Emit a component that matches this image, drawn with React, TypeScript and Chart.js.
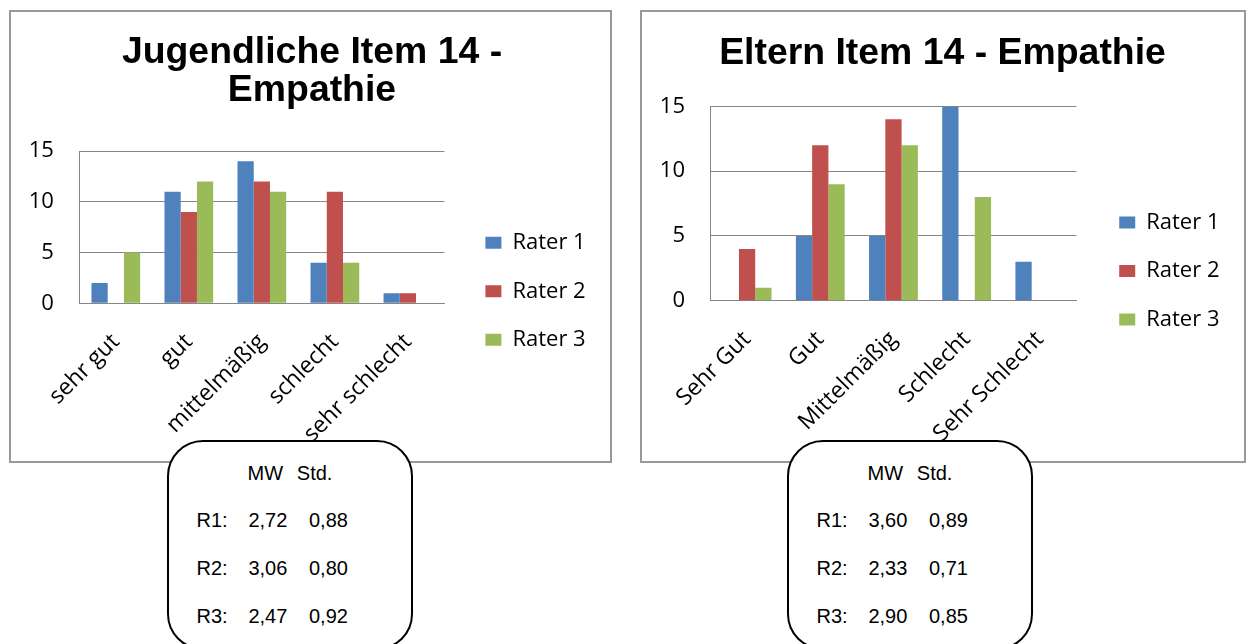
import React, { useEffect, useRef } from "react";
import { Chart, registerables } from "chart.js";

Chart.register(...registerables);

// ---------- data ----------
const jugendCategories = ["sehr gut", "gut", "mittelmäßig", "schlecht", "sehr schlecht"];
const jugendRater1 = [2, 11, 14, 4, 1];
const jugendRater2 = [0, 9, 12, 11, 1];
const jugendRater3 = [5, 12, 11, 4, 0];

const elternCategories = ["Sehr Gut", "Gut", "Mittelmäßig", "Schlecht", "Sehr Schlecht"];
const elternRater1 = [0, 5, 5, 15, 3];
const elternRater2 = [4, 12, 14, 0, 0];
const elternRater3 = [1, 9, 12, 8, 0];

const raterLabels = ["Rater 1", "Rater 2", "Rater 3"];
const raterColors = ["#4F81BD", "#C0504D", "#9BBB59"];
const yMin = 0;
const yMax = 15;
const yStep = 5;

const jugendTitle = ["Jugendliche Item 14 -", "Empathie"];
const elternTitle = "Eltern Item 14 - Empathie";

const statsHeader = ["MW", "Std."];
const statsRows = ["R1:", "R2:", "R3:"];
const jugendMW = ["2,72", "3,06", "2,47"];
const jugendStd = ["0,88", "0,80", "0,92"];
const elternMW = ["3,60", "2,33", "2,90"];
const elternStd = ["0,89", "0,71", "0,85"];

const TICK_FONT = "'Open Sans', sans-serif";
const TITLE_FONT = "'Liberation Sans', Arial, sans-serif";
const GRID = "#868686";

type PanelProps = {
  left: number;
  top: number;
  width: number;
  height: number;
  title: string | string[];
  titlePadTop: number;
  titlePadBottom: number;
  categories: string[];
  series: number[][];
  padLeft: number;
  yAxisWidth: number;
  xAxisHeight: number;
  padRight: number;
  dummyWidth: number;
  legendOffset: number;
  xPad: number;
};

function ChartPanel(p: PanelProps) {
  const ref = useRef<HTMLCanvasElement | null>(null);
  useEffect(() => {
    if (!ref.current) return;
    const chart = new Chart(ref.current, {
      type: "bar",
      data: {
        labels: p.categories,
        datasets: p.series.map((vals, i) => ({
          label: raterLabels[i],
          data: vals,
          backgroundColor: raterColors[i],
          borderWidth: 0,
          categoryPercentage: 0.667,
          barPercentage: 1,
          yAxisID: "y",
        })),
      },
      options: {
        animation: false,
        responsive: false,
        maintainAspectRatio: false,
        devicePixelRatio: 1,
        layout: {
          padding: { top: 0, left: p.padLeft, right: p.padRight, bottom: 0 },
        },
        plugins: {
          tooltip: { enabled: false },
          title: {
            display: true,
            text: p.title,
            color: "#000",
            font: { family: TITLE_FONT, size: 37.4, weight: "bold", lineHeight: 1.03 },
            padding: { top: p.titlePadTop, bottom: p.titlePadBottom },
          },
          legend: {
            display: true,
            position: "right",
            align: "start",
            maxWidth: 220,
            title: {
              display: true,
              text: "",
              font: { size: 1, lineHeight: 1 },
              padding: { top: p.legendOffset, bottom: 0 },
            },
            labels: {
              boxWidth: 16,
              boxHeight: 12,
              padding: 26.5,
              color: "#000",
              font: { family: TICK_FONT, size: 22 },
            },
          },
        },
        scales: {
          x: {
            grid: { display: false, drawTicks: false },
            border: { display: true, color: GRID, width: 1 },
            ticks: {
              autoSkip: false,
              minRotation: 45,
              maxRotation: 45,
              padding: p.xPad,
              color: "#000",
              font: { family: TICK_FONT, size: 23 },
            },
            afterFit: (s: any) => {
              s.paddingLeft = 0;
              s.paddingRight = 0;
              s.height = p.xAxisHeight;
            },
          },
          y: {
            position: "left",
            min: yMin,
            max: yMax,
            grid: { color: GRID, lineWidth: 1, drawTicks: false },
            border: { display: true, color: GRID, width: 1 },
            ticks: {
              stepSize: yStep,
              padding: 25.5,
              color: "#000",
              font: { family: TICK_FONT, size: 22 },
            },
            afterFit: (s: any) => {
              s.width = p.yAxisWidth;
            },
          },
          yR: {
            type: "linear",
            position: "right",
            display: true,
            grid: { display: false, drawTicks: false },
            border: { display: false },
            ticks: { display: false },
            afterFit: (s: any) => {
              s.width = p.dummyWidth;
            },
          },
        },
      },
    } as any);
    return () => chart.destroy();
  }, []);
  return (
    <div
      style={{
        position: "absolute",
        left: p.left,
        top: p.top,
        width: p.width,
        height: p.height,
        border: "2px solid #999",
        boxSizing: "border-box",
        background: "#fff",
      }}
    >
      <canvas ref={ref} width={p.width - 4} height={p.height - 4} style={{ display: "block" }} />
    </div>
  );
}

function StatsBox({ left, mw, std }: { left: number; mw: string[]; std: string[] }) {
  const font: React.CSSProperties = {
    position: "absolute",
    fontFamily: "'Liberation Sans', Arial, sans-serif",
    fontSize: 20,
    lineHeight: "20px",
    color: "#000",
    whiteSpace: "nowrap",
  };
  const rowTops = [509.7, 558.2, 606.2];
  return (
    <>
      <div
        style={{
          position: "absolute",
          left: left,
          top: 440,
          width: 246,
          height: 210,
          border: "2px solid #000",
          borderRadius: 36,
          boxSizing: "border-box",
          background: "#fff",
        }}
      />
      <span style={{ ...font, left: left + 80.5, top: 463 }}>{statsHeader[0]}</span>
      <span style={{ ...font, left: left + 129.8, top: 463 }}>{statsHeader[1]}</span>
      {statsRows.map((r, i) => (
        <React.Fragment key={r}>
          <span style={{ ...font, left: left + 29.5, top: rowTops[i] }}>{r}</span>
          <span style={{ ...font, left: left + 81.4, top: rowTops[i] }}>{mw[i]}</span>
          <span style={{ ...font, left: left + 142, top: rowTops[i] }}>{std[i]}</span>
        </React.Fragment>
      ))}
    </>
  );
}

export default function App() {
  return (
    <div
      style={{
        position: "absolute",
        left: 0,
        top: 0,
        width: 1248,
        height: 644,
        overflow: "hidden",
        background: "#fff",
      }}
    >
      <ChartPanel
        left={9}
        top={10}
        width={603}
        height={453}
        title={jugendTitle}
        titlePadTop={21}
        titlePadBottom={41}
        categories={jugendCategories}
        series={[jugendRater1, jugendRater2, jugendRater3]}
        padLeft={17.3}
        yAxisWidth={51}
        xAxisHeight={157.7}
        padRight={14.3}
        dummyWidth={14.5}
        legendOffset={192.3}
        xPad={25}
      />
      <ChartPanel
        left={640}
        top={10}
        width={606}
        height={453}
        title={elternTitle}
        titlePadTop={22.9}
        titlePadBottom={33}
        categories={elternCategories}
        series={[elternRater1, elternRater2, elternRater3]}
        padLeft={13.5}
        yAxisWidth={55}
        xAxisHeight={160.3}
        padRight={14.5}
        dummyWidth={16.3}
        legendOffset={172}
        xPad={25}
      />
      <StatsBox left={167} mw={jugendMW} std={jugendStd} />
      <StatsBox left={787} mw={elternMW} std={elternStd} />
    </div>
  );
}
